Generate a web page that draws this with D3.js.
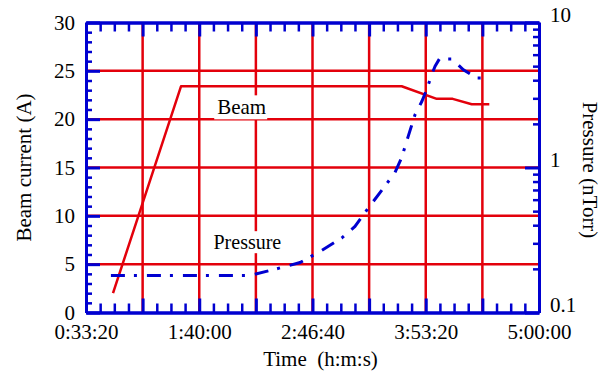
<!DOCTYPE html>
<html>
<head>
<meta charset="utf-8">
<script src="https://cdn.jsdelivr.net/npm/d3@7"></script>
<style>
  body { margin: 0; background: #fff; }
  svg text { font-family: "Liberation Serif", "Times New Roman", serif; fill: #000; }
</style>
</head>
<body>
<svg id="chart" width="605" height="371"></svg>
<script>
// time in seconds since start, beam current in A
var beamTime  = [2954, 5355, 13150, 14387, 14952, 15623, 16245]
var beamValue = [2.0, 23.4, 23.4, 22.1, 22.1, 21.55, 21.55]

// pressure in nTorr (log axis)
var pressTime  = [2880, 7790, 8600, 9560, 10270, 11030, 11500, 11970, 12620, 12910, 13150, 13380, 13620, 13860, 14030, 14210, 14330, 14480, 14920, 15330, 15800, 16150]
var pressValue = [0.18, 0.18, 0.197, 0.221, 0.264, 0.326, 0.392, 0.525, 0.773, 0.92, 1.17, 1.64, 2.31, 2.85, 3.43, 4.36, 5.0, 5.6, 5.6, 4.72, 4.14, 4.14]

var timeLabelTicks = [2000, 6000, 10000, 14000, 18000]
var beamTicks = [0, 5, 10, 15, 20, 25, 30]
var pressTicks = [0.1, 1, 10]

var RED = "#e3000b"
var BLUE = "#0000d0"

var svg = d3.select("#chart")
var plotL = 86, plotR = 539, plotT = 22.5, plotB = 312.5

var x = d3.scaleLinear().domain([2000, 18000]).range([plotL, plotR])
var y = d3.scaleLinear().domain([0, 30]).range([plotB, plotT])
var yP = d3.scaleLog().domain([0.1, 10]).range([plotB, plotT])

function hms(s) {
  var h = Math.floor(s / 3600), m = Math.floor((s % 3600) / 60), sec = Math.round(s % 60)
  return h + ":" + String(m).padStart(2, "0") + ":" + String(sec).padStart(2, "0")
}

var majorX = d3.range(2000, 18001, 2000)
var minorX = d3.range(2000, 18001, 500).filter(d => d % 2000 !== 0)
var minorY = d3.range(0, 31, 1).filter(d => d % 5 !== 0)
var minorP = [2,3,4,5,6,7,8,9].map(d => d / 10).concat([2,3,4,5,6,7,8,9])

// grid
svg.append("g").selectAll("line")
  .data(beamTicks.filter(d => d > 0 && d < 30))
  .enter().append("line")
  .attr("x1", plotL).attr("x2", plotR)
  .attr("y1", d => y(d)).attr("y2", d => y(d))
  .attr("stroke", RED).attr("stroke-width", 2.5)

svg.append("g").selectAll("line")
  .data(majorX.filter(d => d > 2000 && d < 18000))
  .enter().append("line")
  .attr("y1", plotT).attr("y2", plotB)
  .attr("x1", d => x(d)).attr("x2", d => x(d))
  .attr("stroke", RED).attr("stroke-width", 2.5)

// series
var beamLine = d3.line().x(d => x(d[0])).y(d => y(d[1]))
svg.append("path")
  .datum(d3.zip(beamTime, beamValue))
  .attr("d", beamLine)
  .attr("fill", "none").attr("stroke", RED).attr("stroke-width", 2.5)
  .attr("stroke-linejoin", "round")

var pressLine = d3.line().x(d => x(d[0])).y(d => yP(d[1]))
svg.append("path")
  .datum(d3.zip(pressTime, pressValue))
  .attr("d", pressLine)
  .attr("fill", "none").attr("stroke", BLUE).attr("stroke-width", 3)
  .attr("stroke-dasharray", "14,9,3,10")

// labels with white boxes
function boxLabel(txt, xp, yp, size) {
  var g = svg.append("g")
  var t = g.append("text")
    .attr("x", xp).attr("y", yp)
    .attr("text-anchor", "middle")
    .style("font-size", size + "px")
    .text(txt)
  var b = t.node().getBBox()
  g.insert("rect", "text")
    .attr("x", b.x - 3).attr("y", b.y)
    .attr("width", b.width + 4).attr("height", b.height)
    .attr("fill", "#fff")
}
boxLabel("Beam", x(7500), y(20.5), 21)
boxLabel("Pressure", x(7700), y(6.55), 20)

// axes
function styleAxis(g, w) {
  g.select(".domain").attr("stroke", BLUE).attr("stroke-width", 3)
  g.selectAll(".tick line").attr("stroke", BLUE).attr("stroke-width", w)
  g.selectAll(".tick text").style("font-size", "21px").attr("fill", "#000")
    .style("font-family", "'Liberation Serif', 'Times New Roman', serif")
}

// minor ticks first
svg.append("g").attr("transform", "translate(0," + plotB + ")")
  .call(d3.axisBottom(x).tickValues(minorX).tickSize(-9).tickSizeOuter(0).tickFormat(""))
  .call(g => styleAxis(g, 2.5))
svg.append("g").attr("transform", "translate(0," + plotT + ")")
  .call(d3.axisTop(x).tickValues(minorX).tickSize(-9).tickSizeOuter(0).tickFormat(""))
  .call(g => styleAxis(g, 2.5))
svg.append("g").attr("transform", "translate(" + plotL + ",0)")
  .call(d3.axisLeft(y).tickValues(minorY).tickSize(-6).tickSizeOuter(0).tickFormat(""))
  .call(g => styleAxis(g, 2.5))
svg.append("g").attr("transform", "translate(" + plotR + ",0)")
  .call(d3.axisRight(yP).tickValues(minorP).tickSize(-6).tickSizeOuter(0).tickFormat(""))
  .call(g => styleAxis(g, 2.5))

// major ticks
var xb = svg.append("g").attr("transform", "translate(0," + plotB + ")")
  .call(d3.axisBottom(x).tickValues(majorX).tickSize(-14).tickSizeOuter(0).tickPadding(12)
    .tickFormat(d => timeLabelTicks.indexOf(d) >= 0 ? hms(d) : ""))
  .call(g => styleAxis(g, 3))
xb.selectAll(".tick text").attr("dy", "0.71em")

svg.append("g").attr("transform", "translate(0," + plotT + ")")
  .call(d3.axisTop(x).tickValues(majorX).tickSize(-14).tickSizeOuter(0).tickFormat(""))
  .call(g => styleAxis(g, 3))

svg.append("g").attr("transform", "translate(" + plotL + ",0)")
  .call(d3.axisLeft(y).tickValues(beamTicks).tickSize(-14).tickSizeOuter(0).tickPadding(11))
  .call(g => styleAxis(g, 3))

var yr = svg.append("g").attr("transform", "translate(" + plotR + ",0)")
  .call(d3.axisRight(yP).tickValues(pressTicks).tickSize(-14).tickSizeOuter(0).tickPadding(11)
    .tickFormat(d => d < 1 ? "0.1" : String(d)))
  .call(g => styleAxis(g, 3))
yr.selectAll(".tick text").attr("dy", "-0.05em")

// axis titles
svg.append("text")
  .attr("transform", "translate(31," + ((plotT + plotB) / 2) + ") rotate(-90)")
  .attr("text-anchor", "middle")
  .style("font-size", "21px")
  .text("Beam current (A)")

svg.append("text")
  .attr("transform", "translate(583," + 170 + ") rotate(90)")
  .attr("text-anchor", "middle")
  .style("font-size", "21px")
  .text("Pressure (nTorr)")

svg.append("text")
  .attr("x", 320.5).attr("y", 366)
  .attr("text-anchor", "middle")
  .style("font-size", "21px")
  .style("white-space", "pre")
  .text("Time  (h:m:s)")
</script>
</body>
</html>
